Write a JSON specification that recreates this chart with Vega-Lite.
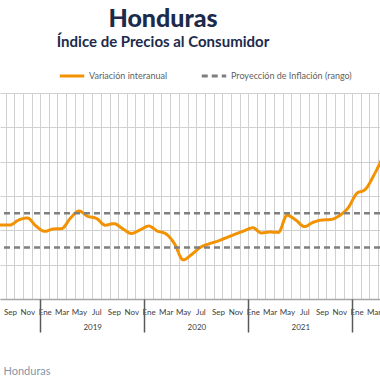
{
  "$schema": "https://vega.github.io/schema/vega-lite/v6.json",
  "usermeta": {"embedOptions": {"actions": false}},
  "width": 380,
  "height": 206,
  "autosize": {"type": "none"},
  "padding": {"left": 0, "top": 93, "right": 0, "bottom": 81},
  "background": "white",
  "title": {
    "text": "Honduras",
    "subtitle": "Índice de Precios al Consumidor",
    "anchor": "middle",
    "dx": -27,
    "offset": 12,
    "font": "Lato",
    "fontSize": 25,
    "fontWeight": 900,
    "color": "#1C2B4B",
    "subtitleFont": "Lato",
    "subtitleFontSize": 15,
    "subtitleFontWeight": "bold",
    "subtitleColor": "#1C2B4B",
    "subtitlePadding": 3
  },
  "config": {
    "font": "Lato",
    "view": {"stroke": null},
    "axisY": {"grid": true, "gridColor": "#d0d0d0", "gridWidth": 1},
    "legend": {
      "orient": "none",
      "legendX": 58,
      "legendY": -31,
      "direction": "horizontal",
      "symbolType": "stroke",
      "symbolSize": 600,
      "symbolStrokeWidth": 3,
      "labelFont": "Lato",
      "labelFontSize": 9,
      "labelColor": "#5f5f5f",
      "labelOffset": 3,
      "columnPadding": 27,
      "title": null
    }
  },
  "resolve": {"axis": {"x": "independent"}},
  "layer": [
    {
      "data": {
        "values": [
          {"fecha": "2018-07-01T00:00", "v": 4.35, "serie": "Variación interanual"},
          {"fecha": "2018-08-01T00:00", "v": 4.31, "serie": "Variación interanual"},
          {"fecha": "2018-09-01T00:00", "v": 4.31, "serie": "Variación interanual"},
          {"fecha": "2018-10-01T00:00", "v": 4.6, "serie": "Variación interanual"},
          {"fecha": "2018-11-01T00:00", "v": 4.72, "serie": "Variación interanual"},
          {"fecha": "2018-12-01T00:00", "v": 4.25, "serie": "Variación interanual"},
          {"fecha": "2019-01-01T00:00", "v": 3.94, "serie": "Variación interanual"},
          {"fecha": "2019-02-01T00:00", "v": 4.08, "serie": "Variación interanual"},
          {"fecha": "2019-03-01T00:00", "v": 4.1, "serie": "Variación interanual"},
          {"fecha": "2019-04-01T00:00", "v": 4.7, "serie": "Variación interanual"},
          {"fecha": "2019-05-01T00:00", "v": 5.13, "serie": "Variación interanual"},
          {"fecha": "2019-06-01T00:00", "v": 4.82, "serie": "Variación interanual"},
          {"fecha": "2019-07-01T00:00", "v": 4.7, "serie": "Variación interanual"},
          {"fecha": "2019-08-01T00:00", "v": 4.3, "serie": "Variación interanual"},
          {"fecha": "2019-09-01T00:00", "v": 4.39, "serie": "Variación interanual"},
          {"fecha": "2019-10-01T00:00", "v": 4.1, "serie": "Variación interanual"},
          {"fecha": "2019-11-01T00:00", "v": 3.82, "serie": "Variación interanual"},
          {"fecha": "2019-12-01T00:00", "v": 4.02, "serie": "Variación interanual"},
          {"fecha": "2020-01-01T00:00", "v": 4.25, "serie": "Variación interanual"},
          {"fecha": "2020-02-01T00:00", "v": 3.96, "serie": "Variación interanual"},
          {"fecha": "2020-03-01T00:00", "v": 3.8, "serie": "Variación interanual"},
          {"fecha": "2020-04-01T00:00", "v": 3.22, "serie": "Variación interanual"},
          {"fecha": "2020-05-01T00:00", "v": 2.28, "serie": "Variación interanual"},
          {"fecha": "2020-06-01T00:00", "v": 2.6, "serie": "Variación interanual"},
          {"fecha": "2020-07-01T00:00", "v": 3.02, "serie": "Variación interanual"},
          {"fecha": "2020-08-01T00:00", "v": 3.22, "serie": "Variación interanual"},
          {"fecha": "2020-09-01T00:00", "v": 3.38, "serie": "Variación interanual"},
          {"fecha": "2020-10-01T00:00", "v": 3.58, "serie": "Variación interanual"},
          {"fecha": "2020-11-01T00:00", "v": 3.78, "serie": "Variación interanual"},
          {"fecha": "2020-12-01T00:00", "v": 3.97, "serie": "Variación interanual"},
          {"fecha": "2021-01-01T00:00", "v": 4.15, "serie": "Variación interanual"},
          {"fecha": "2021-02-01T00:00", "v": 3.85, "serie": "Variación interanual"},
          {"fecha": "2021-03-01T00:00", "v": 3.9, "serie": "Variación interanual"},
          {"fecha": "2021-04-01T00:00", "v": 3.88, "serie": "Variación interanual"},
          {"fecha": "2021-05-01T00:00", "v": 4.88, "serie": "Variación interanual"},
          {"fecha": "2021-06-01T00:00", "v": 4.6, "serie": "Variación interanual"},
          {"fecha": "2021-07-01T00:00", "v": 4.22, "serie": "Variación interanual"},
          {"fecha": "2021-08-01T00:00", "v": 4.47, "serie": "Variación interanual"},
          {"fecha": "2021-09-01T00:00", "v": 4.6, "serie": "Variación interanual"},
          {"fecha": "2021-10-01T00:00", "v": 4.63, "serie": "Variación interanual"},
          {"fecha": "2021-11-01T00:00", "v": 4.85, "serie": "Variación interanual"},
          {"fecha": "2021-12-01T00:00", "v": 5.3, "serie": "Variación interanual"},
          {"fecha": "2022-01-01T00:00", "v": 6.15, "serie": "Variación interanual"},
          {"fecha": "2022-02-01T00:00", "v": 6.38, "serie": "Variación interanual"},
          {"fecha": "2022-03-01T00:00", "v": 7.18, "serie": "Variación interanual"},
          {"fecha": "2022-04-01T00:00", "v": 8.2, "serie": "Variación interanual"}
        ]
      },
      "mark": {"type": "line", "interpolate": "monotone", "strokeWidth": 3, "clip": true},
      "encoding": {
        "x": {
          "field": "fecha",
          "type": "temporal",
          "timeUnit": "yearmonth",
          "bandPosition": 0.5,
          "scale": {"domain": [{"year": 2018, "month": 8, "date": 12}, {"year": 2022, "month": 4, "date": 8}], "nice": false},
          "axis": {
            "orient": "bottom",
            "title": null,
            "tickCount": {"interval": "month", "step": 1},
            "grid": true,
            "gridColor": "#d0d0d0",
            "gridWidth": 1,
            "ticks": false,
            "domain": true,
            "domainColor": "#a6a6a6",
            "domainWidth": 1.5,
            "labelExpr": "month(datum.value) % 2 == 0 ? ['Ene','Feb','Mar','Abr','May','Jun','Jul','Ago','Sep','Oct','Nov','Dic'][month(datum.value)] : ''",
            "labelOffset": 4.3,
            "labelPadding": 9,
            "labelFont": "Lato",
            "labelFontSize": 8,
            "labelColor": "#404040",
            "labelOverlap": false,
            "labelFlush": false,
            "labelBound": false
          }
        },
        "y": {
          "field": "v",
          "type": "quantitative",
          "scale": {"domain": [0, 12], "nice": false, "zero": false},
          "axis": {"values": [0, 2, 4, 6, 8, 10, 12], "grid": true, "gridColor": "#d0d0d0", "labels": false, "ticks": false, "domain": false, "title": null}
        },
        "color": {
          "field": "serie",
          "type": "nominal",
          "scale": {"domain": ["Variación interanual", "Proyección de Inflación (rango)"], "range": ["#F39200", "#7F7F7F"]},
          "legend": {"title": null}
        },
        "strokeDash": {
          "field": "serie",
          "type": "nominal",
          "scale": {"domain": ["Variación interanual", "Proyección de Inflación (rango)"], "range": [[1, 0], [6, 4]]},
          "legend": {"title": null}
        }
      }
    },
    {
      "data": {
        "values": [
          {"v": 3, "serie": "Proyección de Inflación (rango)"},
          {"v": 5, "serie": "Proyección de Inflación (rango)"}
        ]
      },
      "mark": {"type": "rule", "strokeWidth": 2.5},
      "encoding": {
        "y": {
          "field": "v",
          "type": "quantitative",
          "axis": {"values": [0, 2, 4, 6, 8, 10, 12], "grid": true, "gridColor": "#d0d0d0", "labels": false, "ticks": false, "domain": false, "title": null}
        },
        "color": {"field": "serie", "type": "nominal", "legend": {"title": null}},
        "strokeDash": {"field": "serie", "type": "nominal", "legend": {"title": null}}
      }
    },
    {
      "data": {"values": [{"anio": "2019-01-01T00:00"}, {"anio": "2020-01-01T00:00"}, {"anio": "2021-01-01T00:00"}, {"anio": "2022-01-01T00:00"}]},
      "mark": {"type": "point", "opacity": 0},
      "encoding": {
        "x": {
          "field": "anio",
          "type": "temporal",
          "axis": {
            "orient": "bottom",
            "title": null,
            "values": [{"year": 2019, "month": 1, "date": 1}, {"year": 2020, "month": 1, "date": 1}, {"year": 2021, "month": 1, "date": 1}, {"year": 2022, "month": 1, "date": 1}],
            "grid": false,
            "labels": false,
            "ticks": true,
            "tickSize": 33,
            "tickColor": "#595959",
            "tickWidth": 1.5,
            "domain": false
          }
        }
      }
    },
    {
      "data": {"values": [{"anio": "2019-07-02T00:00"}, {"anio": "2020-07-02T00:00"}, {"anio": "2021-07-02T00:00"}]},
      "mark": {"type": "point", "opacity": 0},
      "encoding": {
        "x": {
          "field": "anio",
          "type": "temporal",
          "axis": {
            "orient": "bottom",
            "values": [{"year": 2019, "month": 7, "date": 2}, {"year": 2020, "month": 7, "date": 2}, {"year": 2021, "month": 7, "date": 2}],
            "format": "%Y",
            "grid": false,
            "ticks": false,
            "domain": false,
            "labelPadding": 24,
            "labelFont": "Lato",
            "labelFontSize": 8,
            "labelColor": "#404040",
            "labelFlush": false,
            "title": "Honduras",
            "titleFont": "Lato",
            "titleFontSize": 11,
            "titleFontWeight": "normal",
            "titleColor": "#8696A8",
            "titleX": 3,
            "titleY": 75,
            "titleAlign": "left",
            "titleBaseline": "alphabetic",
            "titleAngle": 0
          }
        }
      }
    }
  ]
}
